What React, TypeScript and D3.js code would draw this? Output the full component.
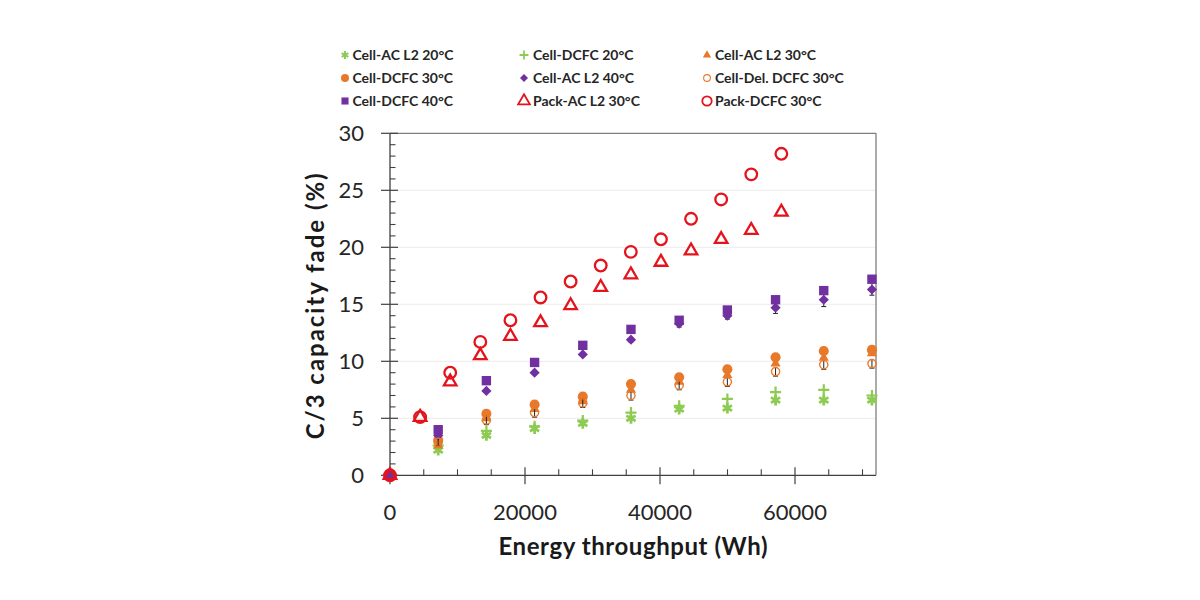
import React from "react";
import * as d3 from "d3";

// ---- data ----
const cellX = [0, 7140, 14280, 21420, 28560, 35700, 42840, 49980, 57120, 64260, 71400];
const packX = [0, 4460, 8920, 13380, 17840, 22300, 26760, 31220, 35680, 40140, 44600, 49060, 53520, 57980];

const cellAcL2_20 = [0, 2.2, 3.5, 4.1, 4.55, 5.0, 5.8, 5.9, 6.6, 6.6, 6.6];
const cellDcfc20 = [0, 2.6, 3.9, 4.3, 4.8, 5.5, 6.1, 6.7, 7.3, 7.5, 7.0];
const cellAcL2_30 = [0, 2.6, 5.0, 5.8, 6.5, 7.5, 8.2, 8.8, 9.8, 10.3, 10.7];
const cellDcfc30 = [0, 3.1, 5.4, 6.2, 6.9, 8.0, 8.6, 9.3, 10.35, 10.9, 11.0];
const cellAcL2_40 = [0, 3.5, 7.4, 9.0, 10.6, 11.9, 13.3, 14.0, 14.7, 15.4, 16.3];
const cellAcL2_40Err = [0, 0, 0, 0, 0, 0.2, 0.3, 0.3, 0.5, 0.6, 0.5];
const cellDelDcfc30 = [0, 2.9, 4.85, 5.5, 6.35, 7.0, 7.9, 8.2, 9.1, 9.7, 9.8];
const cellDelDcfc30Err = [0, 0.3, 0.4, 0.4, 0.4, 0.4, 0.4, 0.4, 0.4, 0.4, 0.4];
const cellDcfc40 = [0, 4.0, 8.3, 9.9, 11.4, 12.8, 13.6, 14.5, 15.4, 16.2, 17.2];
const packAcL2_30 = [0, 5.1, 8.2, 10.5, 12.2, 13.4, 14.9, 16.5, 17.6, 18.7, 19.7, 20.7, 21.5, 23.1];
const packDcfc30 = [0, 5.1, 9.0, 11.7, 13.6, 15.6, 17.0, 18.4, 19.6, 20.7, 22.5, 24.2, 26.4, 28.2];

const seriesNames = [
  "Cell-AC L2 20°C", "Cell-DCFC 20°C", "Cell-AC L2 30°C",
  "Cell-DCFC 30°C", "Cell-AC L2 40°C", "Cell-Del. DCFC 30°C",
  "Cell-DCFC 40°C", "Pack-AC L2 30°C", "Pack-DCFC 30°C",
];
const yTicks = [0, 5, 10, 15, 20, 25, 30];
const xTicks = [0, 20000, 40000, 60000];

const GREEN = "#8DCB52";
const ORANGE = "#E8782A";
const PURPLE = "#7030A0";
const RED = "#E3141C";
const FONT = "Lato, 'Open Sans', sans-serif";

type Marker = { type: any; size: number; fill: string; stroke: string; sw: number; rotate?: number };

const styles: Marker[] = [
  { type: d3.symbolAsterisk, size: 80, fill: "none", stroke: GREEN, sw: 2.8 },
  { type: d3.symbolPlus, size: 42, fill: "none", stroke: GREEN, sw: 2.2 },
  { type: d3.symbolTriangle, size: 45, fill: ORANGE, stroke: "none", sw: 0 },
  { type: d3.symbolCircle, size: 80, fill: ORANGE, stroke: "none", sw: 0 },
  { type: d3.symbolSquare, size: 52, fill: PURPLE, stroke: "none", sw: 0, rotate: 45 },
  { type: d3.symbolCircle, size: 52, fill: "none", stroke: ORANGE, sw: 1.4 },
  { type: d3.symbolSquare, size: 88, fill: PURPLE, stroke: "none", sw: 0 },
  { type: d3.symbolTriangle, size: 68, fill: "none", stroke: RED, sw: 2.3 },
  { type: d3.symbolCircle, size: 106, fill: "none", stroke: RED, sw: 2.3 },
];
const legendStyles: Marker[] = [
  { type: d3.symbolAsterisk, size: 42, fill: "none", stroke: GREEN, sw: 2 },
  { type: d3.symbolPlus, size: 28, fill: "none", stroke: GREEN, sw: 1.8 },
  { type: d3.symbolTriangle, size: 30, fill: ORANGE, stroke: "none", sw: 0 },
  { type: d3.symbolCircle, size: 50, fill: ORANGE, stroke: "none", sw: 0 },
  { type: d3.symbolSquare, size: 32, fill: PURPLE, stroke: "none", sw: 0, rotate: 45 },
  { type: d3.symbolCircle, size: 36, fill: "none", stroke: ORANGE, sw: 1.1 },
  { type: d3.symbolSquare, size: 50, fill: PURPLE, stroke: "none", sw: 0 },
  { type: d3.symbolTriangle, size: 60, fill: "none", stroke: RED, sw: 1.8 },
  { type: d3.symbolCircle, size: 70, fill: "none", stroke: RED, sw: 1.8 },
];

const seriesData = [
  { xs: cellX, ys: cellAcL2_20 },
  { xs: cellX, ys: cellDcfc20 },
  { xs: cellX, ys: cellAcL2_30 },
  { xs: cellX, ys: cellDcfc30 },
  { xs: cellX, ys: cellAcL2_40, err: cellAcL2_40Err },
  { xs: cellX, ys: cellDelDcfc30, err: cellDelDcfc30Err },
  { xs: cellX, ys: cellDcfc40 },
  { xs: packX, ys: packAcL2_30 },
  { xs: packX, ys: packDcfc30 },
];

const left = 390, right = 876, top = 133.3, bottom = 475.3;

function Sym({ m, x, y }: { m: Marker; x: number; y: number }) {
  const d = d3.symbol().type(m.type).size(m.size)() as string;
  return (
    <path
      d={d}
      transform={`translate(${x},${y})${m.rotate ? ` rotate(${m.rotate})` : ""}`}
      fill={m.fill}
      stroke={m.stroke}
      strokeWidth={m.sw}
    />
  );
}

export default function App() {
  const x = d3.scaleLinear().domain([0, 72000]).range([left, right]);
  const y = d3.scaleLinear().domain([0, 30]).range([bottom, top]);
  const yMinor = d3.range(1, 30).filter((v) => v % 5 !== 0);
  const xMinor = d3.range(5000, 72000, 5000).filter((v) => v % 20000 !== 0);

  const legendCols = [345, 524, 707];
  const legendRows = [55, 78, 101];

  return (
    <svg
      width={1200}
      height={600}
      style={{ position: "absolute", left: 0, top: 0, background: "#fff" }}
      fontFamily={FONT}
    >
      <rect width={1200} height={600} fill="#fff" />
      {/* gridlines */}
      {yTicks.filter((t) => t > 0 && t < 30).map((t) => (
        <line key={"g" + t} x1={left} x2={right} y1={y(t)} y2={y(t)} stroke="#ececec" strokeWidth={1} />
      ))}
      {/* frame */}
      <line x1={left} x2={right} y1={top} y2={top} stroke="#7f7f7f" strokeWidth={1.3} />
      <line x1={right} x2={right} y1={top} y2={bottom} stroke="#7f7f7f" strokeWidth={1.3} />
      <line x1={left} x2={left} y1={top} y2={bottom} stroke="#404040" strokeWidth={1.3} />
      <line x1={left} x2={right} y1={bottom} y2={bottom} stroke="#404040" strokeWidth={1.3} />
      {/* y ticks */}
      {yTicks.map((t) => (
        <g key={"yt" + t}>
          <line x1={left - 9} x2={left + 8} y1={y(t)} y2={y(t)} stroke="#404040" strokeWidth={1.2} />
          <text x={364} y={y(t)} dy="0.35em" textAnchor="end" fontSize={22} fill="#262626">
            {t}
          </text>
        </g>
      ))}
      {yMinor.map((t) => (
        <line key={"ym" + t} x1={left} x2={left + 5.5} y1={y(t)} y2={y(t)} stroke="#404040" strokeWidth={1.1} />
      ))}
      {/* x ticks */}
      {xTicks.map((t) => (
        <g key={"xt" + t}>
          <line x1={x(t)} x2={x(t)} y1={bottom - 8} y2={bottom + 9} stroke="#404040" strokeWidth={1.2} />
          <text x={x(t)} y={520} textAnchor="middle" fontSize={22} fill="#262626">
            {t}
          </text>
        </g>
      ))}
      {xMinor.map((t) => (
        <line key={"xm" + t} x1={x(t)} x2={x(t)} y1={bottom - 6} y2={bottom} stroke="#404040" strokeWidth={1.1} />
      ))}
      {/* axis titles */}
      <text
        transform={`translate(324,${(top + bottom) / 2 + 2}) rotate(-90)`}
        textAnchor="middle"
        fontSize={24}
        fontWeight="bold"
        fill="#1a1a1a"
        textLength={266}
        lengthAdjust="spacing"
      >
        C/3 capacity fade (%)
      </text>
      <text
        x={(left + right) / 2}
        y={555}
        textAnchor="middle"
        fontSize={24}
        fontWeight="bold"
        fill="#1a1a1a"
        textLength={269}
        lengthAdjust="spacing"
      >
        Energy throughput (Wh)
      </text>
      {/* series */}
      {seriesData.map((s, si) => (
        <g key={"s" + si}>
          {s.err &&
            s.xs.map((xv, i) =>
              s.err![i] > 0 ? (
                <g key={"e" + i}>
                  <line x1={x(xv)} x2={x(xv)} y1={y(s.ys[i] - s.err![i])} y2={y(s.ys[i] + s.err![i])} stroke="#222" strokeWidth={1} />
                  <line x1={x(xv) - 2.5} x2={x(xv) + 2.5} y1={y(s.ys[i] - s.err![i])} y2={y(s.ys[i] - s.err![i])} stroke="#222" strokeWidth={1} />
                </g>
              ) : null
            )}
          {s.xs.map((xv, i) => (
            <Sym key={i} m={styles[si]} x={x(xv)} y={y(s.ys[i])} />
          ))}
        </g>
      ))}
      {/* legend */}
      {seriesNames.map((name, i) => {
        const col = i % 3;
        const row = Math.floor(i / 3);
        const mx = legendCols[col];
        const my = legendRows[row];
        return (
          <g key={"l" + i}>
            <Sym m={legendStyles[i]} x={mx} y={my} />
            <text x={mx + (col === 0 ? 7.5 : col === 1 ? 9 : 8)} y={my} dy="0.36em" fontSize={14} fontWeight="bold" fill="#262626">
              {name}
            </text>
          </g>
        );
      })}
    </svg>
  );
}
